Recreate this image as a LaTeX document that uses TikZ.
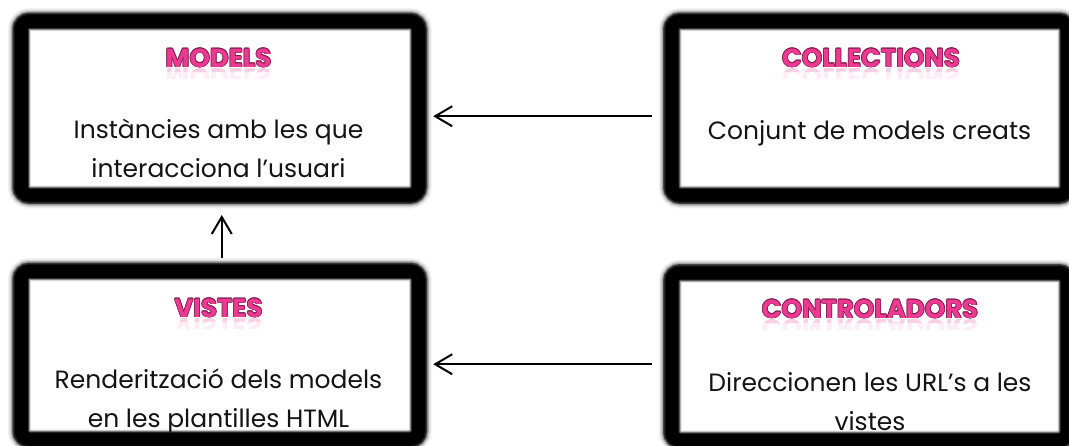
\documentclass[tikz,border=0pt]{standalone}
\usepackage{fontspec}
\setmainfont{Poppins}
\usetikzlibrary{arrows.meta}

\definecolor{titlefill}{HTML}{EC3A92}
\definecolor{titleedge}{HTML}{7D1C4C}
\definecolor{ink}{HTML}{141414}

% one dark copy of a heading, shifted by (#1,#2)
\newcommand\edgecopy[3]{\rlap{\hspace*{#1}\raisebox{#2}{\textcolor{titleedge}{#3}}}}
% pink heading with a thin dark outline
\newcommand\pinktitle[1]{%
  \edgecopy{-.7pt}{0pt}{#1}\edgecopy{.7pt}{0pt}{#1}%
  \edgecopy{0pt}{.7pt}{#1}\edgecopy{0pt}{-.7pt}{#1}%
  \edgecopy{.5pt}{.5pt}{#1}\edgecopy{-.5pt}{.5pt}{#1}%
  \edgecopy{.5pt}{-.5pt}{#1}\edgecopy{-.5pt}{-.5pt}{#1}%
  \textcolor{titlefill}{#1}}

\tikzset{
  panel/.style={rectangle, rounded corners=8pt, fill=white, outer sep=0pt,
    inner sep=0pt,
    preaction={draw=black, line width=27pt, draw opacity=.05},
    preaction={draw=black, line width=24pt, draw opacity=.10},
    preaction={draw=black, line width=21pt, draw opacity=.22},
    preaction={draw=black, line width=18pt, draw opacity=.45},
    postaction={draw=black, line width=19pt, draw opacity=.12},
    postaction={draw=black, line width=17pt, draw opacity=.35},
    postaction={draw=black, line width=15pt, draw opacity=.6},
    postaction={draw=black, line width=13pt}},
  heading/.style={anchor=base, inner sep=0pt,
    font=\fontsize{26}{26}\selectfont\bfseries},
  mirror/.style={anchor=base, inner sep=0pt, text=#1,
    font=\fontsize{26}{26}\selectfont\bfseries},
  body/.style={align=center, inner sep=0pt, text=ink,
    font=\fontsize{25}{39}\selectfont},
  link/.style={draw=black, line width=2pt,
    -{Straight Barb[length=17pt,width=20pt]}},
}

% faded mirror image of a heading under its baseline (#1,#2)
\newcommand\reflection[3]{%
  \begin{scope}
    \clip (#1-150,#2+1) rectangle (#1+150,#2+5);
    \node[mirror=titlefill!24] at (#1,#2+1.5) {\scalebox{1}[-1]{#3}};
  \end{scope}
  \begin{scope}
    \clip (#1-150,#2+5) rectangle (#1+150,#2+11);
    \node[mirror=titlefill!9] at (#1,#2+1.5) {\scalebox{1}[-1]{#3}};
  \end{scope}}

\begin{document}
\begin{tikzpicture}[x=1pt,y=-1pt]
  \useasboundingbox (0,0) rectangle (1069,445);

  % the four panels
  \node[panel, minimum width=397pt, minimum height=173.5pt] (models) at (219.75,108.25) {};
  \node[panel, minimum width=395pt, minimum height=173.5pt] (coll)   at (869.5,108.25) {};
  \node[panel, minimum width=397pt, minimum height=167.5pt] (vistes) at (219.75,355.25) {};
  \node[panel, minimum width=395pt, minimum height=167pt]   (ctrl)   at (869.5,356.5) {};

  % headings
  \reflection{218.5}{67}{MODELS}
  \reflection{871}{67}{COLLECTIONS}
  \reflection{218.5}{317}{VISTES}
  \reflection{870}{318}{CONTROLADORS}
  \node[heading] (modelsT) at (218.5,67)  {\pinktitle{MODELS}};
  \node[heading] (collT)   at (871,67)    {\pinktitle{COLLECTIONS}};
  \node[heading] (vistesT) at (218.5,317) {\pinktitle{VISTES}};
  \node[heading] (ctrlT)   at (870,318)   {\pinktitle{CONTROLADORS}};

  % descriptions
  \node[body] (modelsB) at (218.5,148) {Instàncies amb les que\\interacciona l’usuari};
  \node[body, anchor=base] (collB) at (869.5,139) {Conjunt de models creats};
  \node[body] (vistesB) at (218.5,401) {Renderització dels models\\en les plantilles HTML};
  \node[body] (ctrlB)   at (870,402) {Direccionen les URL’s a les\\vistes};

  % connectors
  \coordinate (toprow) at ([yshift=-8pt]models.east);
  \coordinate (lowrow) at ([yshift=-9pt]vistes.east);
  \draw[link, shorten <=20pt, shorten >=15pt] (toprow -| coll.west) -- (toprow);
  \draw[link, shorten <=20pt, shorten >=15pt] (lowrow -| ctrl.west) -- (lowrow);
  \draw[link, shorten <=13.5pt, shorten >=20pt] ([xshift=2pt]vistes.north) -- ([xshift=2pt]models.south);
\end{tikzpicture}
\end{document}
